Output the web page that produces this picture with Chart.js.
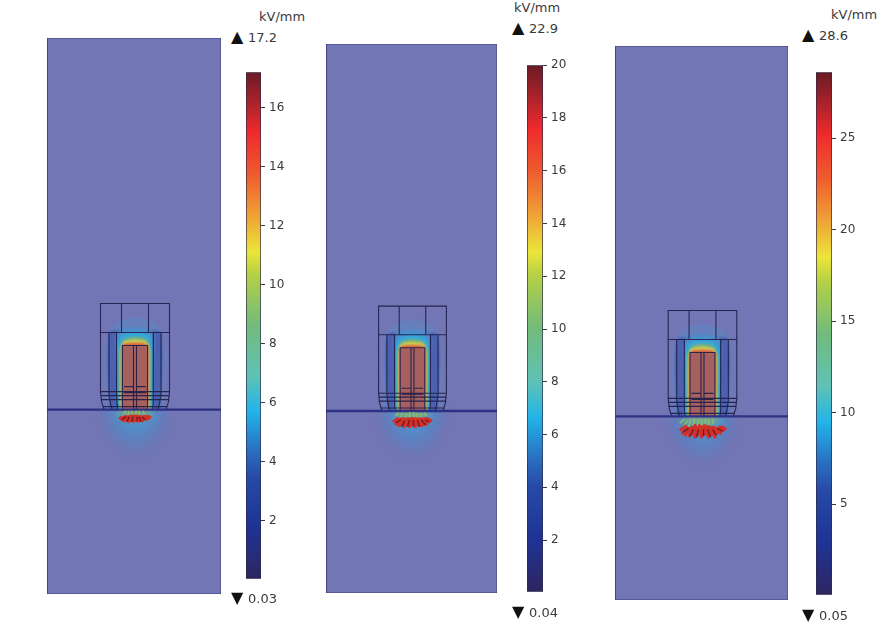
<!DOCTYPE html>
<html>
<head>
<meta charset="utf-8">
<title>Electric field</title>
<script src="https://cdn.jsdelivr.net/npm/chart.js@4"></script>
<style>
  html, body { margin: 0; padding: 0; background: #fff; }
  body { width: 886px; height: 625px; position: relative; overflow: hidden; filter: blur(0.55px); }
  canvas { position: absolute; }
  .lbl { position: absolute; font: 13px "DejaVu Sans", sans-serif; color: #3a3a3a; line-height: 14px; white-space: nowrap; }
  .lbl b { font-weight: normal; font-size: 16px; color: #111; display: inline-block; width: 17px; }
</style>
</head>
<body>
<script>
// ===== Data =====
// colour bar ranges (kV/mm)
const barMin = [0.03, 0.04, 0.05];
const barMax = [17.2, 20, 28.6];
const peakLabels = ['17.2', '22.9', '28.6'];
const floorLabels = ['0.03', '0.04', '0.05'];
const ticks1 = [2, 4, 6, 8, 10, 12, 14, 16];
const ticks2 = [2, 4, 6, 8, 10, 12, 14, 16, 18, 20];
const ticks3 = [5, 10, 15, 20, 25];

// field level of each contour (kV/mm), outer to inner
const haloLevels1 = [5.5, 3.4, 5.4, 5.7, 8.6, 11, 13.6];
const haloLevels2 = [6.4, 4.0, 6.3, 6.6, 10, 12.8, 15.8];
const haloLevels3 = [9.2, 5.7, 9.0, 9.4, 14.3, 18.3, 22.6];
const glowLevels1 = [5.0, 5.3, 5.6, 8.4];
const glowLevels2 = [5.8, 6.2, 6.5, 9.5];
const glowLevels3 = [8.4, 8.8, 9.2, 13];

// how strongly each contour shows through the translucent plot
const haloStrength = [0.18, 0.5, 0.5, 0.82, 0.82, 0.85, 0.85];
const glowStrength = [0.14, 0.26, 0.42, 0.7];

// contour half outlines [x, y, ...] in model units, mirrored about x = 0
const haloShapes = [
  [29, 0, 30, 60, 26, 80, 12, 90, 0, 92],
  [25.5, 0, 25.5, 77, 0, 77],
  [18, 50, 19, 76, 10, 81, 0, 82],
  [18, 0, 18, 60, 15, 72, 8, 76, 0, 77],
  [15.5, 0, 15.5, 60, 12, 70, 6, 72.5, 0, 73],
  [14.2, 0, 14.2, 60, 11, 68, 0, 70],
  [13.2, 0, 13.2, 62, 10, 66, 0, 67],
];
const glowShapes = [
  [34, 0, 31, -16, 22, -32, 10, -41, 0, -44],
  [28, 0, 25, -14, 17, -26, 8, -32, 0, -34],
  [23, 0, 20, -10, 13, -18, 5, -23, 0, -25],
  [18, 0, 16, -6, 8, -10, 0, -11],
];
const blockShape = [12.5, 0, 12.5, 64, 0, 64];

// device outline, half polylines mirrored about x = 0
const deviceLines = [
  [0, 106, 34.5, 106, 34.5, 18, 33.5, 8, 31, 0],
  [0, 77, 34.5, 77],
  [13.5, 77, 13.5, 106],
  [26, 77, 26, 16, 24.5, 6, 23, 0],
  [18.5, 77, 18.5, 16, 18, 6, 17.5, 0],
  [12.5, 0, 12.5, 64, 0, 64],
  [1.5, 0, 1.5, 64],
  [0, 18, 34.5, 18],
  [0, 14, 34, 14],
  [0, 10, 33.5, 10],
  [0, 3, 32, 3],
  [2, 23, 11, 23],
  [0, 17, 11, 17],
];

// field arrows below the tip [x0, y0, x1, y1, ...]
const arrowsRed1 = [-14,-9,14,-9, -10,-7,10,-7, -9,-11,9,-11, -16,-9,-12,-7, -14,-11,-9,-6, -12,-12,-8,-6, -9,-12,-6,-6, -7,-13,-4,-6, -5,-10,-3,-5, -2,-13,-1,-5, 1,-12,1,-5, 3,-13,2,-5, 5,-11,3,-6, 7,-12,4,-6, 9,-11,6,-6, 12,-11,8,-6, 14,-9,10,-6, 16,-8,12,-6];
const arrowsDark1 = [-13,-10,-9,-7, -8,-12,-6,-7, -3,-12,-2,-7, 2,-11,2,-7, 6,-12,4,-7, 10,-10,7,-7];
const arrowsTip1 = [-11,-4,-9,-1, -7,-5,-6,-1, -3,-5,-3,-1, 1,-5,1,-1, 5,-5,4,-1, 9,-4,8,-1];
const arrowsRed2 = [-17,-11,17,-11, -12,-14,12,-14, -13,-8,13,-8, -20,-11,-14,-7, -18,-14,-12,-8, -15,-16,-10,-8, -12,-15,-8,-7, -9,-17,-6,-8, -6,-14,-4,-7, -3,-17,-2,-7, 0,-15,0,-6, 3,-17,2,-7, 6,-15,4,-7, 9,-16,6,-7, 12,-15,8,-7, 15,-15,10,-7, 18,-12,12,-7, 20,-10,14,-7];
const arrowsDark2 = [-17,-12,-12,-9, -11,-16,-8,-10, -5,-16,-3,-9, 1,-16,1,-9, 7,-16,5,-9, 13,-14,9,-9, 17,-11,13,-9];
const arrowsTip2 = [-17,-5,-14,-2, -12,-6,-10,-2, -7,-7,-6,-2, -3,-6,-3,-1, 1,-7,1,-1, 5,-6,4,-2, 9,-7,8,-2, 14,-5,12,-2];
const arrowsRed3 = [-20,-14,20,-14, -14,-18,14,-18, -12,-11,13,-11, -23,-14,-16,-9, -21,-18,-14,-11, -18,-20,-12,-11, -14,-21,-10,-10, -11,-19,-7,-8, -8,-22,-5,-10, -4,-19,-3,-8, -1,-22,-1,-9, 2,-19,2,-8, 6,-22,4,-9, 9,-20,6,-9, 13,-22,9,-10, 16,-18,11,-10, 19,-18,14,-11, 22,-15,16,-10, 24,-13,18,-10];
const arrowsDark3 = [-20,-16,-14,-12, -13,-20,-9,-13, -6,-21,-4,-13, 1,-20,1,-13, 8,-21,5,-13, 14,-19,10,-13, 20,-15,15,-12];
const arrowsTip3 = [-23,-7,-18,-3, -19,-10,-15,-4, -14,-11,-12,-3, -9,-9,-8,-2, -5,-12,-4,-3, -1,-10,-1,-2, 3,-11,3,-2, 7,-10,6,-3, 11,-8,10,-2];

// ===== Layout (pixels in the page) =====
const fieldRects = [[47, 38, 174, 556], [326, 44, 171, 549], [615, 46, 173, 554]];
const barRects = [[246, 71, 15, 509], [527, 64, 16, 529], [816, 71, 16, 525]];
const unitPos = [[259, 10], [514, 1], [831, 8]];
const peakPos = [[231, 30], [512, 21], [802, 28]];
const floorPos = [[231, 591], [512, 605], [802, 608]];

// ===== Colours =====
const PLOT_BG = [115, 118, 181];
const COLORMAP = [
  [0, '#2d2560'], [0.03, '#2a2a70'], [0.1, '#1e3394'], [0.2, '#264aa8'], [0.25, '#2a6cc0'],
  [0.33, '#22b4e8'], [0.4, '#5fc2b4'], [0.5, '#72bb7c'], [0.6, '#b4d045'], [0.645, '#ece53a'],
  [0.725, '#ef9a35'], [0.8, '#ee5a2e'], [0.88, '#ef2a2d'], [0.93, '#b5242b'], [1, '#6b1a25'],
];

function hexToRgb(h) {
  return [1, 3, 5].map(i => parseInt(h.substr(i, 2), 16));
}

// colour of a field value, washed towards the plot background like the translucent plot
function fieldColor(value, max, strength) {
  const t = Math.min(1, value / max);
  let i = 0;
  while (i < COLORMAP.length - 2 && COLORMAP[i + 1][0] < t) i++;
  const [t0, c0] = COLORMAP[i];
  const [t1, c1] = COLORMAP[i + 1];
  const f = (t - t0) / (t1 - t0);
  const a = hexToRgb(c0), b = hexToRgb(c1);
  const rgb = a.map((v, k) => (v + (b[k] - v) * f) * strength + PLOT_BG[k] * (1 - strength));
  return `rgb(${rgb.map(Math.round).join(',')})`;
}

// ===== Helpers =====
function addCanvas(left, top, w, h) {
  const c = document.createElement('canvas');
  c.width = w; c.height = h;
  c.style.left = left + 'px';
  c.style.top = top + 'px';
  c.style.width = w + 'px';
  c.style.height = h + 'px';
  document.body.appendChild(c);
  return c;
}

function toPoints(flat) {
  const pts = [];
  for (let i = 0; i < flat.length; i += 2) pts.push({ x: flat[i], y: flat[i + 1] });
  return pts;
}

function mirrored(half) {
  const pts = toPoints(half);
  const back = pts.slice().reverse().map(p => ({ x: -p.x, y: p.y }));
  return pts.concat(back);
}

function segments(flat) {
  const pts = [];
  for (let i = 0; i < flat.length; i += 4) {
    pts.push({ x: flat[i], y: flat[i + 1] }, { x: flat[i + 2], y: flat[i + 3] }, { x: null, y: null });
  }
  return pts;
}

function deviceOutline() {
  const pts = [];
  deviceLines.forEach(line => {
    toPoints(line).forEach(p => pts.push(p));
    pts.push({ x: null, y: null });
    toPoints(line).forEach(p => pts.push({ x: -p.x, y: p.y }));
    pts.push({ x: null, y: null });
  });
  return pts;
}

function fillSet(data, color, order, tension) {
  return {
    data, order, showLine: true, fill: 'shape', tension: tension || 0,
    backgroundColor: color, borderColor: color, borderWidth: 0, pointRadius: 0,
  };
}

function lineSet(data, color, width, order) {
  return { data, order, showLine: true, fill: false, borderColor: color, borderWidth: width, pointRadius: 0, spanGaps: false };
}

// soft edges for the field contours; a dataset may switch the blur for the ones after it
const softContours = {
  id: 'softContours',
  afterDatasetDraw(chart, args) {
    const next = chart.data.datasets[args.index].filterAfter;
    if (next) chart.ctx.filter = next;
  },
};

// ===== Field panels =====
function drawField(p, haloLevels, glowLevels, arrowsTip, arrowsRed, arrowsDark) {
  const [left, top, w, h] = fieldRects[p];
  const max = barMax[p];
  const sets = [];
  let order = 100;

  sets.push({
    ...fillSet(toPoints([-88, -184, 86, -184, 86, 371, -88, 371, -88, -184]), '#7376b5', order--),
    borderColor: '#3f4178', borderWidth: 1, filterAfter: 'blur(3px)',
  });
  glowShapes.forEach((shape, i) => {
    const s = fillSet(mirrored(shape), fieldColor(glowLevels[i], max, glowStrength[i]), order--, 0.3);
    if (i === glowShapes.length - 1) s.filterAfter = 'blur(1.1px)';
    sets.push(s);
  });
  haloShapes.forEach((shape, i) => sets.push(fillSet(mirrored(shape), fieldColor(haloLevels[i], max, haloStrength[i]), order--, 0.25)));
  sets.push({ ...fillSet(mirrored(blockShape), '#a5605f', order--), filterAfter: 'none' });
  sets.push(lineSet(deviceOutline(), 'rgba(30,28,72,0.9)', 1.1, order--));
  sets.push(lineSet(toPoints([-88, 0, 86, 0]), '#2e3183', 2.4, order--));
  sets.push(lineSet(segments(arrowsTip), '#8dbb62', 1.8, order--));
  sets.push(lineSet(segments(arrowsRed), '#d4302a', 2.8, order--));
  sets.push(lineSet(segments(arrowsDark), '#7a1a22', 1.5, order--));

  new Chart(addCanvas(left - 1, top - 1, w + 2, h + 2), {
    type: 'scatter',
    data: { datasets: sets },
    plugins: [softContours],
    options: {
      responsive: false,
      animation: false,
      layout: { padding: 1 },
      plugins: { legend: { display: false }, tooltip: { enabled: false } },
      scales: {
        x: { type: 'linear', min: -88, max: 86, display: false },
        y: { type: 'linear', min: -184, max: 371, display: false },
      },
    },
  });
}

// ===== Colour bars =====
function drawBar(p, tickValues) {
  const [left, top, w, h] = barRects[p];
  const axisW = 40, pad = 10;
  new Chart(addCanvas(left, top - pad, w + axisW, h + pad * 2), {
    type: 'bar',
    data: {
      labels: ['kV/mm'],
      datasets: [{
        data: [[barMin[p], barMax[p]]],
        barPercentage: 1,
        categoryPercentage: 1,
        borderSkipped: false,
        borderWidth: 1,
        borderColor: '#2e2a45',
        backgroundColor: ctx => {
          const area = ctx.chart.chartArea;
          if (!area) return '#888';
          const g = ctx.chart.ctx.createLinearGradient(0, area.bottom, 0, area.top);
          COLORMAP.forEach(([t, c]) => g.addColorStop(t, c));
          return g;
        },
      }],
    },
    options: {
      responsive: false,
      animation: false,
      layout: { padding: { top: pad, bottom: pad } },
      plugins: { legend: { display: false }, tooltip: { enabled: false } },
      scales: {
        x: { display: false },
        y: {
          position: 'right',
          min: barMin[p],
          max: barMax[p],
          afterBuildTicks: s => { s.ticks = tickValues.map(v => ({ value: v })); },
          afterFit: s => { s.width = axisW; },
          border: { display: false },
          grid: { drawOnChartArea: false, drawTicks: true, tickLength: 4, color: '#3a3a3a' },
          ticks: {
            padding: 4,
            autoSkip: false,
            color: '#3a3a3a',
            font: { family: 'DejaVu Sans', size: 12 },
            callback: v => v,
          },
        },
      },
    },
  });
}

// ===== Text =====
function addLabel(pos, html) {
  const d = document.createElement('div');
  d.className = 'lbl';
  d.style.left = pos[0] + 'px';
  d.style.top = pos[1] + 'px';
  d.innerHTML = html;
  document.body.appendChild(d);
}

// ===== Start =====
drawField(0, haloLevels1, glowLevels1, arrowsTip1, arrowsRed1, arrowsDark1);
drawField(1, haloLevels2, glowLevels2, arrowsTip2, arrowsRed2, arrowsDark2);
drawField(2, haloLevels3, glowLevels3, arrowsTip3, arrowsRed3, arrowsDark3);
drawBar(0, ticks1);
drawBar(1, ticks2);
drawBar(2, ticks3);

[0, 1, 2].forEach(p => {
  addLabel(unitPos[p], 'kV/mm');
  addLabel(peakPos[p], '<b>▲</b>' + peakLabels[p]);
  addLabel(floorPos[p], '<b>▼</b>' + floorLabels[p]);
});
</script>
</body>
</html>
